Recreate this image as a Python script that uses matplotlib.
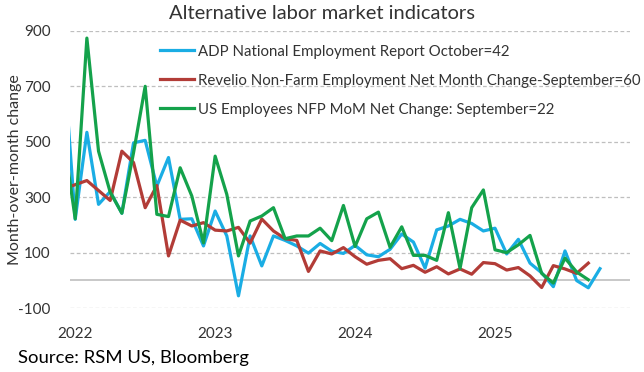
import numpy as np
import matplotlib.pyplot as plt

plt.rcParams['font.family'] = ['Lato', 'DejaVu Sans']

# monthly data, Dec 2021 .. Oct 2025 (index 0 = Jan 2022)
months = np.arange(-1, 46)

adp = [800, 220, 534, 274, 320, 242, 496, 505, 340, 443, 220, 222, 124,
       250, 160, -56, 160, 52, 160, 144, 124, 98, 133, 105, 97, 126, 92,
       85, 112, 167, 138, 44, 182, 196, 220, 205, 178, 188, 95, 148, 62,
       27, -23, 106, -1, -27, 42]

revelio = [330, 345, 360, 324, 288, 466, 425, 262, 342, 88, 217, 196, 208,
           181, 178, 191, 134, 221, 178, 150, 144, 32, 106, 95, 118, 85, 58,
           72, 78, 42, 54, 29, 49, 23, 41, 22, 64, 60, 37, 46, 16, -26, 53,
           41, 25, 62]

nfp = [517, 222, 874, 466, 318, 242, 460, 700, 238, 230, 406, 304, 135,
       448, 310, 88, 214, 232, 262, 150, 160, 160, 188, 143, 270, 122, 222,
       246, 119, 193, 90, 90, 72, 244, 43, 262, 326, 110, 100, 128, 162, 25,
       -10, 80, 30, 2]

labels = ["ADP National Employment Report October=42",
          "Revelio Non-Farm Employment Net Month Change-September=60",
          "US Employees NFP MoM Net Change: September=22"]
colors = ["#1AADE4", "#B23C37", "#14A24B"]

year_ticks = [0, 12, 24, 36]
year_labels = ["2022", "2023", "2024", "2025"]
y_ticks = [-100, 100, 300, 500, 700, 900]

fig = plt.figure(figsize=(6.44, 3.72), dpi=100)
ax = fig.add_axes([0.109, 0.172, 0.869, 0.745])

for yt in y_ticks:
    ax.axhline(yt, color="#BFBFBF", lw=0.9, ls=(0, (3, 2)), zorder=0)
ax.axhline(0, color="#BFBFBF", lw=1.2, zorder=0)

series = [adp, revelio, nfp]
for s, lab, col in zip(series, labels, colors):
    ax.plot(months[:len(s)], s, color=col, lw=2.3, label=lab)

ax.set_xlim(-0.43, 47.56)
ax.set_ylim(-100, 900)
ax.set_yticks(y_ticks)
ax.set_yticklabels([str(v) for v in y_ticks], fontsize=11, color="#333333")
ax.set_xticks(year_ticks)
ax.set_xticklabels(year_labels, fontsize=11, color="#333333")
ax.tick_params(length=0)
ax.tick_params(axis="x", pad=14)
ax.tick_params(axis="y", pad=14)
for sp in ax.spines.values():
    sp.set_visible(False)

ax.set_ylabel("Month-over-month change", fontsize=11.5, color="#333333")
ax.yaxis.set_label_coords(-0.087, 0.5)

fig.text(0.5, 0.963, "Alternative labor market indicators", ha="center",
         va="center", fontsize=14.5, color="#333333")
fig.text(0.028, 0.038, "Source: RSM US, Bloomberg", ha="left", va="center",
         fontsize=13.3, color="black")

ax.legend(loc="upper left", bbox_to_anchor=(0.227, 0.916), bbox_transform=fig.transFigure,
          frameon=False, fontsize=10.8, handlelength=2.3, handletextpad=0.25,
          labelspacing=1.0, labelcolor="#333333")

fig.savefig("out.png", dpi=100)
